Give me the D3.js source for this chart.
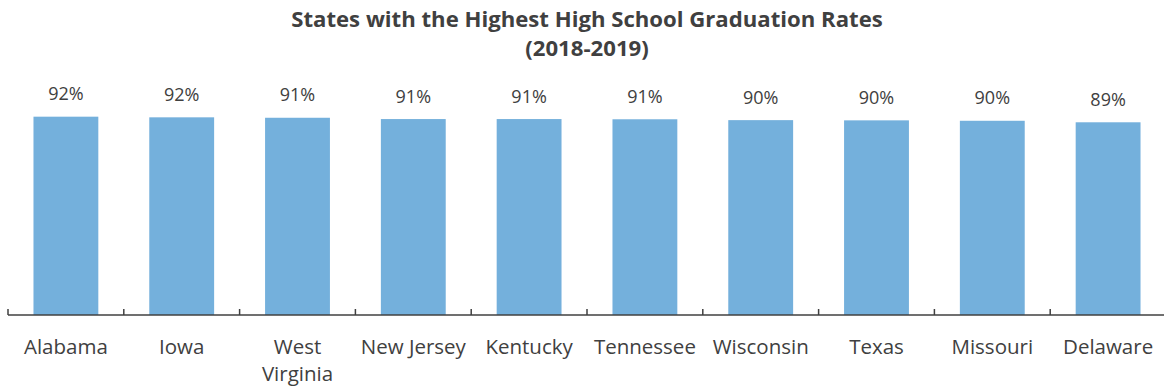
<!DOCTYPE html>
<html><head><meta charset="utf-8">
<script src="https://cdn.jsdelivr.net/npm/d3@7"></script>
<style>body{margin:0;background:#fff}</style>
</head><body><svg id="c" width="1164" height="390"></svg>
<script>
const states = ["Alabama","Iowa","West Virginia","New Jersey","Kentucky","Tennessee","Wisconsin","Texas","Missouri","Delaware"];
const rates = [0.919,0.916,0.914,0.908,0.908,0.907,0.903,0.902,0.900,0.893];
const titleLines = ["States with the Highest High School Graduation Rates","(2018-2019)"];

const svg = d3.select("#c");
const font = "'Open Sans', sans-serif";
const x = d3.scaleBand().domain(states).range([8,1166]).paddingInner(0.44).paddingOuter(0.22);
const y = d3.scaleLinear().domain([0,1]).range([315,99.2]);

const tg = svg.append("g").selectAll("text").data(titleLines).join("text")
  .attr("x",587).attr("y",(d,i)=>27+i*29).attr("text-anchor","middle")
  .attr("font-family",font).attr("font-weight","bold").attr("font-size",21)
  .attr("fill","#404040").text(d=>d);
const w0 = tg.nodes()[0].getComputedTextLength();
tg.attr("font-size",21*592/w0);

svg.append("g").selectAll("rect").data(states).join("rect")
  .attr("x",d=>x(d)).attr("width",x.bandwidth())
  .attr("y",(d,i)=>y(rates[i])).attr("height",(d,i)=>y(0)-y(rates[i]))
  .attr("fill","#74b0dc");

svg.append("g").selectAll("text").data(states).join("text")
  .attr("x",d=>x(d)+x.bandwidth()/2).attr("y",(d,i)=>y(rates[i])-16.5)
  .attr("text-anchor","middle").attr("font-family",font).attr("font-size",18)
  .attr("fill","#404040").text((d,i)=>d3.format(".0%")(rates[i]));

const step = x.step();
const bounds = d3.range(states.length).map(i=>8+i*step);
const ax = svg.append("g");
ax.append("line").attr("x1",8).attr("x2",1166).attr("y1",315).attr("y2",315).attr("stroke","#404040").attr("stroke-width",1.5);
ax.selectAll(".t").data(bounds).join("line").attr("class","t")
  .attr("x1",d=>d).attr("x2",d=>d).attr("y1",309).attr("y2",315).attr("stroke","#404040").attr("stroke-width",1.5);

const lab = svg.append("g").selectAll("text").data(states).join("text")
  .attr("x",d=>x(d)+x.bandwidth()/2).attr("y",353.5).attr("text-anchor","middle")
  .attr("font-family",font).attr("font-size",20.5).attr("fill","#404040");
lab.each(function(d){
  const lines = d.length>12 ? d.split(" ") : [d];
  d3.select(this).selectAll("tspan").data(lines).join("tspan")
    .attr("x",x(d)+x.bandwidth()/2).attr("dy",(l,i)=>i?27:0).text(l=>l);
});
</script></body></html>
